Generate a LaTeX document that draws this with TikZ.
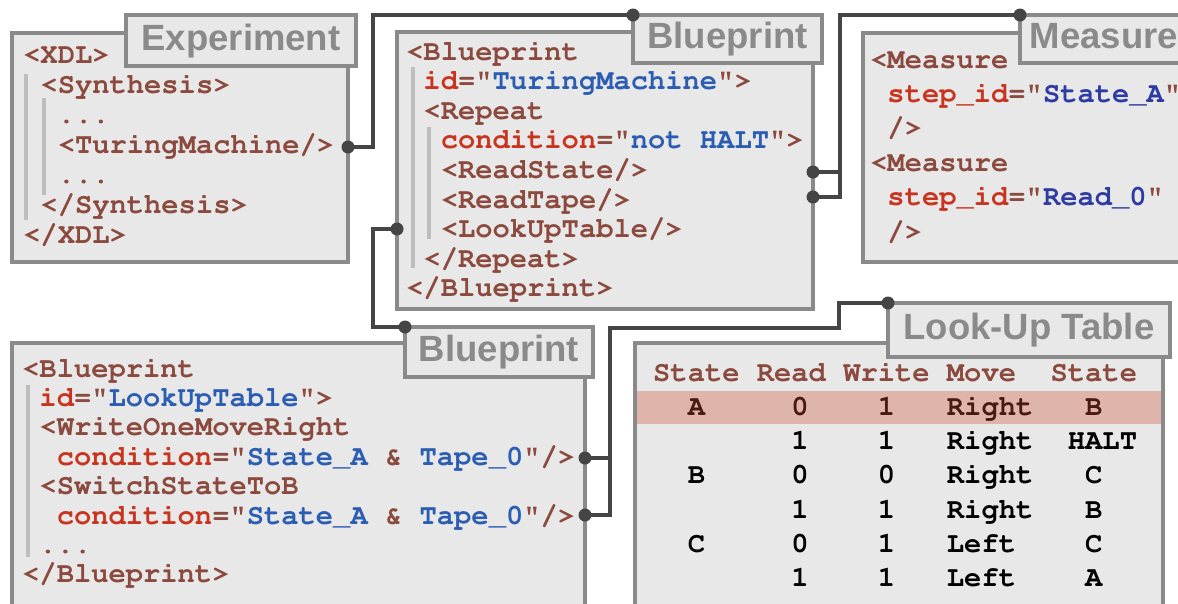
\documentclass[tikz,border=0pt]{standalone}
\usepackage[T1]{fontenc}
\usepackage{fontspec}
\setmainfont{Liberation Sans}
\newfontfamily\tabFace{Liberation Sans}
\usepackage{xcolor}
\usepackage{tikz}
\usetikzlibrary{positioning,fit,calc}

\definecolor{panelFill}{HTML}{E8E8E8}
\definecolor{panelEdge}{HTML}{8A8A8A}
\definecolor{barGray}{HTML}{BDBDBD}
\definecolor{wireGray}{HTML}{454545}
\definecolor{tagBrown}{HTML}{8C4A3E}
\definecolor{attrRed}{HTML}{C9341F}
\definecolor{valBlue}{HTML}{2B5DB2}
\definecolor{valNavy}{HTML}{2E3BA3}
\definecolor{rowPink}{HTML}{DFB4AA}
\definecolor{rowText}{HTML}{4A1A12}

\newcommand{\codeFont}[1][29.6]{\fontencoding{T1}\fontfamily{pcr}\fontseries{b}\fontshape{n}\fontsize{28.8}{#1}\selectfont}
\newcommand{\tabFont}{\tabFace\bfseries\fontsize{36.5}{40}\selectfont}
\newcommand{\gap}[1]{\hspace*{#1\dimexpr0.6em\relax}}
\newcommand{\lvl}{\gap{1}}
\newcommand{\attrName}[1]{\textcolor{attrRed}{#1}}
\newcommand{\attrVal}[1]{\textcolor{valBlue}{#1}}
\newcommand{\stepVal}[1]{\textcolor{valNavy}{#1}}

\tikzset{
  panelBox/.style={
    rectangle,
    draw=panelEdge,
    fill=panelFill,
    line width=4.5pt,
    inner sep=0pt,
    outer sep=0pt
  },
  tabBox/.style={
    rectangle,
    draw=panelEdge,
    fill=panelFill,
    line width=4.5pt,
    inner sep=0pt,
    outer sep=0pt,
    anchor=north west,
    text=panelEdge,
    font=\tabFont,
    text height=27pt,
    text depth=8pt
  },
  % base west of a multi-line node = baseline of its last line
  codeText/.style={
    text=tagBrown,
    font=\codeFont,
    align=left,
    inner sep=0pt,
    anchor=base west
  },
  guideBar/.style={
    draw=barGray,
    line width=4pt
  },
  wireLine/.style={
    draw=wireGray,
    line width=4pt
  }
}

\begin{document}
\begin{tikzpicture}[x=1pt,y=-1pt]
        \useasboundingbox (0,0) rectangle (1178,603);
        \clip (0,0) rectangle (1178,603);

        % panels
        \node[panelBox, fit={(12,33) (348,262)}] (experiment) {};
        \node[panelBox, fit={(397,32) (813,309)}] (turing) {};
        \node[panelBox, fit={(863,33) (1210,262)}] (measure) {};
        \node[panelBox, fit={(12,343) (585,640)}] (lookup) {};
        \node[panelBox, fit={(635,343) (1163,640)}] (table) {};
        \fill[rowPink] (637,391) rectangle (1161,424);

        % tabs
        \node[tabBox, minimum width=230pt, minimum height=51pt] (experimentTab) at (126,15) {Experiment};
        \node[tabBox, minimum width=189pt, minimum height=48pt] (turingTab) at (633,15) {Blueprint};
        \node[tabBox, minimum width=168pt, minimum height=48pt] (measureTab) at (1020,15) {Measure};
        \node[tabBox, minimum width=188pt, minimum height=50pt] (lookupTab) at (405,327) {Blueprint};
        \node[tabBox, minimum width=282pt, minimum height=54pt] (tableTab) at (888,303) {Look-Up Table};

        % indent guides
        \draw[guideBar] (26,74) -- (26,220);
        \draw[guideBar] (44,98) -- (44,195);
        \draw[guideBar] (413,67) -- (413,268);
        \draw[guideBar] (429,127) -- (429,239);
        \draw[guideBar] (28,385) -- (28,557);

        % code
        \node[codeText, font={\codeFont[29.9]}] (experimentCode) at (23,243) {<XDL>\\
          \lvl<Synthesis>\\
          \gap{2}...\\
          \gap{2}<TuringMachine/>\\
          \gap{2}...\\
          \lvl</Synthesis>\\
          </XDL>};
        \node[codeText] (turingCode) at (406,296.8) {<Blueprint\\
          \lvl\attrName{id}="\attrVal{TuringMachine}">\\
          \lvl<Repeat\\
          \gap{2}\attrName{condition}="\attrVal{not HALT}">\\
          \gap{2}<ReadState/>\\
          \gap{2}<ReadTape/>\\
          \gap{2}<LookUpTable/>\\
          \lvl</Repeat>\\
          </Blueprint>};
        \node[codeText, font={\codeFont[34.4]}] (measureCode) at (870,240) {<Measure\\
          \lvl\attrName{step\_id}="\stepVal{State\_A}"\\
          \lvl/>\\
          <Measure\\
          \lvl\attrName{step\_id}="\stepVal{Read\_0}"\\
          \lvl/>};
        \node[codeText, font={\codeFont[29.4]}] (lookupCode) at (22,582.8) {<Blueprint\\
          \lvl\attrName{id}="\attrVal{LookUpTable}">\\
          \lvl<WriteOneMoveRight\\
          \gap{2}\attrName{condition}="\attrVal{State\_A} \& \attrVal{Tape\_0}"/>\\
          \lvl<SwitchStateToB\\
          \gap{2}\attrName{condition}="\attrVal{State\_A} \& \attrVal{Tape\_0}"/>\\
          \lvl...\\
          </Blueprint>};
        \node[codeText, font={\codeFont[34.3]}] (tableCode) at (653,586.8) {State Read Write Move\gap{2}State\\
          \textcolor{rowText}{\gap{2}A\gap{5}0\gap{4}1\gap{3}Right\gap{3}B}\\
          \textcolor{black}{\gap{8}1\gap{4}1\gap{3}Right\gap{2}HALT}\\
          \textcolor{black}{\gap{2}B\gap{5}0\gap{4}0\gap{3}Right\gap{3}C}\\
          \textcolor{black}{\gap{8}1\gap{4}1\gap{3}Right\gap{3}B}\\
          \textcolor{black}{\gap{2}C\gap{5}0\gap{4}1\gap{3}Left\gap{4}C}\\
          \textcolor{black}{\gap{8}1\gap{4}1\gap{3}Left\gap{4}A}};

        % links
        \coordinate (expOut) at (experiment.east |- 0,147);
        \coordinate (turingOutA) at (turing.east |- 0,172);
        \coordinate (turingOutB) at (turing.east |- 0,197);
        \coordinate (turingIn) at (turing.west |- 0,229);
        \coordinate (lookupOutA) at (lookup.east |- 0,458);
        \coordinate (lookupOutB) at (lookup.east |- 0,515);

        \draw[wireLine] (expOut) -- ++(25,0) |- (turingTab.north west);
        \draw[wireLine] (turingOutA) -- ++(27,0);
        \draw[wireLine] (turingOutB) -- ++(27,0) |- (measureTab.north west);
        \draw[wireLine] (turingIn) -- ++(-24,0) |- (lookupTab.north west);
        \draw[wireLine] (lookupOutA) -- ++(25,0);
        \draw[wireLine] (lookupOutB) -- ++(25,0) |- ++(229,-187) |- (tableTab.north west);

        \foreach \pt in {expOut, turingTab.north west, turingOutA, turingOutB, measureTab.north west,
                         turingIn, lookupTab.north west, lookupOutA, lookupOutB, tableTab.north west}
          \fill[wireGray] (\pt) circle (6.5);
    \end{tikzpicture}
\end{document}
